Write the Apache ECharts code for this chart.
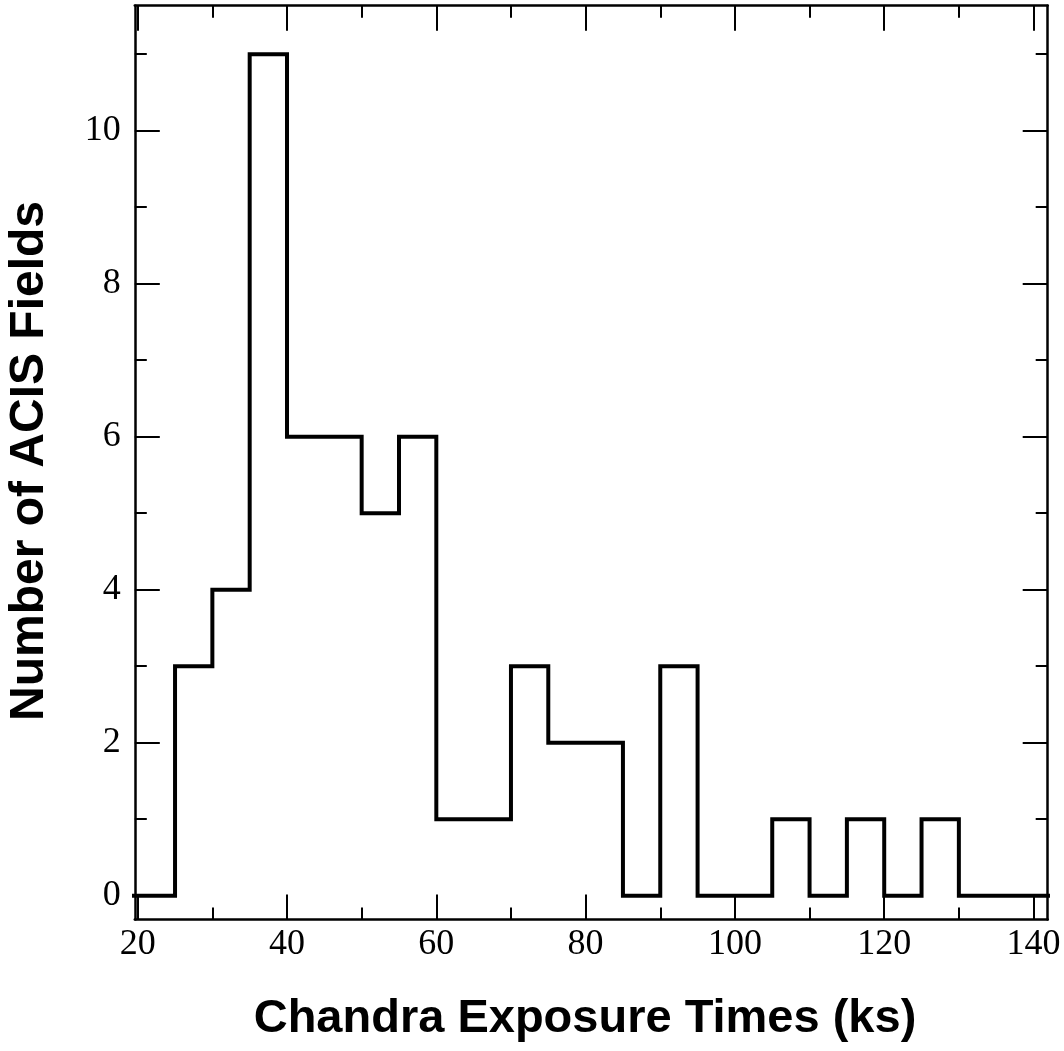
<!DOCTYPE html>
<html>
<head>
<meta charset="utf-8">
<script src="https://cdn.jsdelivr.net/npm/echarts@6/dist/echarts.min.js"></script>
<style>
html,body{margin:0;padding:0;background:#fff;}
#chart{width:1064px;height:1051px;}
</style>
</head>
<body>
<div id="chart"></div>
<script>
// Histogram bin edges (ks) and counts per bin
var binEdges = [15,20,25,30,35,40,45,50,55,60,65,70,75,80,85,90,95,100,105,110,115,120,125,130,135,140,145];
var binCounts = [0,0,3,4,11,6,6,5,6,1,1,3,2,2,0,3,0,0,1,0,1,0,1,0,0,0];
// Tick values
var xMajorTicks = [20,40,60,80,100,120,140];
var xMinorTicks = [30,50,70,90,110,130];
var yMajorTicks = [0,2,4,6,8,10];
var yMinorTicks = [1,3,5,7,9,11];
var xTitle = 'Chandra Exposure Times (ks)';
var yTitle = 'Number of ACIS Fields';

var stepData = [];
for (var i = 0; i < binCounts.length; i++) stepData.push([binEdges[i], binCounts[i]]);
stepData.push([binEdges[binEdges.length-1], binCounts[binCounts.length-1]]);

var XMIN = 19.61, XMAX = 141.9, YMIN = -0.311, YMAX = 11.634;
var tickStyle = {color:'#000', width:2};
var labelFont = {fontFamily:'Liberation Serif', fontSize:36, color:'#000'};

function xAxisDef(pos, ticks, len, major, showLabel){
  return {
    type:'value', position:pos, min:XMIN, max:XMAX, gridIndex:0,
    axisLine:{show:major, onZero:false, lineStyle:{color:'#000', width:2.5}},
    axisTick:{show:true, inside:true, length:len, customValues:ticks, lineStyle:tickStyle},
    axisLabel:Object.assign({show:showLabel, customValues:ticks, margin:7}, labelFont),
    splitLine:{show:false}
  };
}
function yAxisDef(pos, ticks, len, major, showLabel){
  return {
    type:'value', position:pos, min:YMIN, max:YMAX, gridIndex:0,
    axisLine:{show:major, onZero:false, lineStyle:{color:'#000', width:2.5}},
    axisTick:{show:true, inside:true, length:len, customValues:ticks, lineStyle:tickStyle},
    axisLabel:Object.assign({show:showLabel, customValues:ticks, margin:14}, labelFont),
    splitLine:{show:false}
  };
}

var chart = echarts.init(document.getElementById('chart'), null, {renderer:'canvas'});
chart.setOption({
  animation:false,
  backgroundColor:'#fff',
  grid:{left:134.8, top:5.7, width:912.9, height:913.8, containLabel:false},
  xAxis:[
    xAxisDef('bottom', xMajorTicks, 25, true, true),
    xAxisDef('bottom', xMinorTicks, 12, false, false),
    xAxisDef('top', xMajorTicks, 25, true, false),
    xAxisDef('top', xMinorTicks, 12, false, false)
  ],
  yAxis:[
    yAxisDef('left', yMajorTicks, 25, true, true),
    yAxisDef('left', yMinorTicks, 12, false, false),
    yAxisDef('right', yMajorTicks, 25, true, false),
    yAxisDef('right', yMinorTicks, 12, false, false)
  ],
  series:[{
    type:'line', xAxisIndex:0, yAxisIndex:0, step:'end', data:stepData,
    symbol:'none', clip:true,
    lineStyle:{color:'#000', width:4, join:'miter'}
  }],
  graphic:[
    {type:'text', x:585, y:1019, style:{text:xTitle, font:'bold 47px "Liberation Sans"', fill:'#000', align:'center', verticalAlign:'middle'}},
    {type:'text', x:30, y:461, rotation:Math.PI/2, style:{text:yTitle, font:'bold 48px "Liberation Sans"', fill:'#000', align:'center', verticalAlign:'middle'}}
  ]
});
</script>
</body>
</html>
